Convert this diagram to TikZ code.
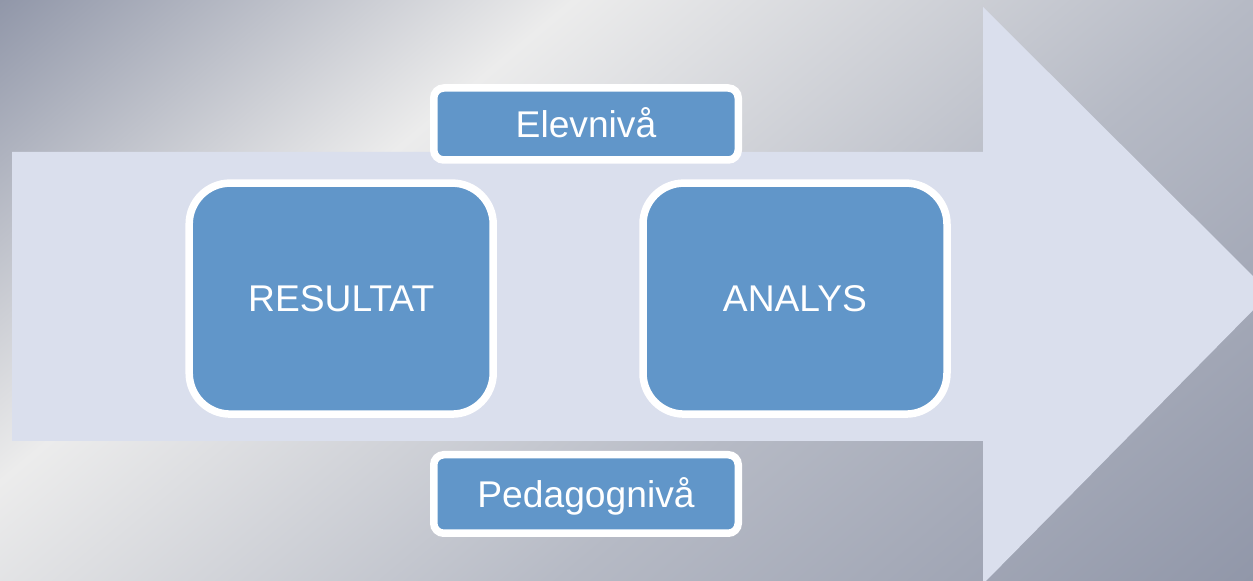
\documentclass[tikz,border=0pt]{standalone}
\usepackage{fontspec}
\setmainfont{Liberation Sans}
\definecolor{bgdark}{HTML}{9197A9}
\definecolor{bgmid}{HTML}{B6BAC5}
\definecolor{bglight}{HTML}{ECECEC}
\definecolor{arrowfill}{HTML}{DADFED}
\definecolor{boxblue}{HTML}{6196C9}
% bounding box of the shaded square maps to 25bp..75bp of the shading
\pgfdeclarehorizontalshading{bgshade}{100bp}{color(0bp)=(bgdark); color(25.9bp)=(bgdark); color(40.1bp)=(bglight); color(56.9bp)=(bgmid); color(74.1bp)=(bgdark); color(100bp)=(bgdark)}
\tikzset{
  boxtext/.style={text=white, font=\fontsize{18.6}{20}\selectfont, text height=13.4pt, text depth=0pt},
  bigbox/.style={rectangle, rounded corners=20.5pt, fill=boxblue, draw=white, line width=3.75pt,
    minimum width=152pt, minimum height=115.5pt, inner sep=0pt, boxtext},
  smallbox/.style={rectangle, rounded corners=5pt, fill=boxblue, draw=white, line width=3.75pt,
    minimum width=152.25pt, inner sep=0pt, boxtext},
}
\begin{document}
\begin{tikzpicture}[x=0.5pt,y=-0.5pt]
\useasboundingbox (0,0) rectangle (1253,581);
\begin{scope}
  \clip (0,0) rectangle (1253,581);
  \shade[shading=bgshade, shading angle=-50] (-23.5,-359.5) rectangle (1276.5,940.5);
  % big arrow
  \fill[arrowfill] (12,152) -- (983,152) -- (983,7) -- (1270,293) -- (983,584) -- (983,441) -- (12,441) -- cycle;
\end{scope}
\node[bigbox] (res) at (341.2,298.6) {RESULTAT};
\node[bigbox] (ana) at (795,298.6) {ANALYS};
\node[smallbox, minimum height=36pt] (elev) at (586,124) {Elevnivå};
\node[smallbox, minimum height=39.25pt] (ped) at (586,494) {Pedagognivå};
\end{tikzpicture}
\end{document}
